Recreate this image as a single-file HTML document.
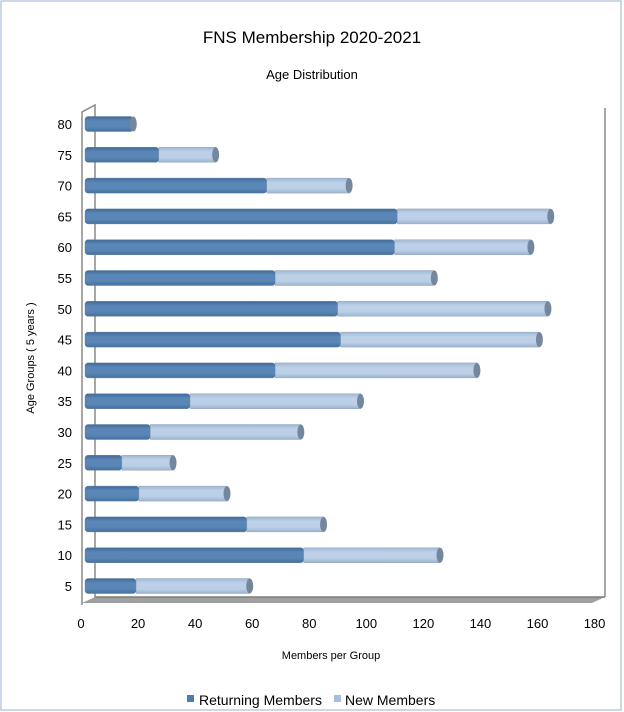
<!DOCTYPE html>
<html><head><meta charset="utf-8"><style>
html,body{margin:0;padding:0;background:#fff;}
svg{display:block;font-family:"Liberation Sans",sans-serif;}
</style></head><body>
<svg id="chart" width="624" height="712" viewBox="0 0 624 712">
<defs>
<linearGradient id="gRet" x1="0" y1="0" x2="0" y2="1">
<stop offset="0" stop-color="#3f6a9a"/><stop offset="0.3" stop-color="#5b87b8"/><stop offset="0.7" stop-color="#5a86b6"/><stop offset="1" stop-color="#44709f"/></linearGradient>
<linearGradient id="gNew" x1="0" y1="0" x2="0" y2="1">
<stop offset="0" stop-color="#9fb7d3"/><stop offset="0.3" stop-color="#bcd0e8"/><stop offset="0.7" stop-color="#bbcfe7"/><stop offset="1" stop-color="#9cb3cf"/></linearGradient>
</defs>
<rect x="1" y="1" width="620" height="709" fill="#fff" stroke="#a9bcd8" stroke-width="1.2"/>
<text x="312" y="43" font-size="17" text-anchor="middle">FNS Membership  2020-2021</text>
<text x="312" y="79" font-size="13" text-anchor="middle">Age Distribution</text>
<text transform="translate(34,358) rotate(-90)" font-size="11" text-anchor="middle">Age Groups ( 5 years )</text>
<text x="331" y="659" font-size="11" text-anchor="middle">Members per Group</text>
<g>
<polyline points="82,605 82,112 95,105 95,597" fill="none" stroke="#8a8a8a" stroke-width="1.5"/>
<line x1="605" y1="108" x2="605" y2="597" stroke="#8a8a8a" stroke-width="1.5"/>
<polygon points="82,603 592,603 605,597 95,597" fill="#a0a0a0"/>
<line x1="95" y1="597" x2="605" y2="597" stroke="#7c7c7c" stroke-width="1.5"/>
</g>
<g id="bars"></g>
<g id="yticks"></g>
<g id="xticks"></g>
<g>
<g>
<rect x="187" y="695" width="7" height="7" fill="#4f7cb0"/>
<text x="199" y="705" font-size="14">Returning Members</text></g>
<g>
<rect x="334" y="695" width="7" height="7" fill="#a7bfdc"/>
<text x="345" y="705" font-size="14">New Members</text></g>
</g>
</svg>
<script>
const categories = ["80","75","70","65","60","55","50","45","40","35","30","25","20","15","10","5"];
const returning  = [17, 26, 64, 110, 109, 67, 89, 90, 67, 37, 23, 13, 19, 57, 77, 18];
const newMembers = [0, 20, 29, 54, 48, 56, 74, 70, 71, 60, 53, 18, 31, 27, 48, 40];
const xTicks = [0,20,40,60,80,100,120,140,160,180];

const NS="http://www.w3.org/2000/svg";
const X0=85, XS=2.84;
function xPos(v){return X0+v*XS;}
function yPos(i){return 124+i*30.8;}
function mk(tag,attrs,parent){const e=document.createElementNS(NS,tag);for(const k in attrs)e.setAttribute(k,attrs[k]);parent.appendChild(e);return e;}
const bars=document.getElementById('bars');
const yt=document.getElementById('yticks');
const xt=document.getElementById('xticks');
const H=15;
categories.forEach((c,i)=>{
  const yc=yPos(i), y=yc-H/2;
  const r=returning[i], n=newMembers[i];
  const g=mk('g',{},bars);
  
  
  const br=mk('rect',{x:xPos(0),y:y,width:xPos(r)-xPos(0),height:H,rx:3,fill:'url(#gRet)',stroke:'#5d7894','stroke-width':0.4},g);
  
  
  if(n>0){
    const bn=mk('rect',{x:xPos(r),y:y,width:xPos(r+n)-xPos(r),height:H,fill:'url(#gNew)',stroke:'#8a9bb0','stroke-width':0.4},g);
    
    
  }
  const cap=mk('ellipse',{cx:xPos(r+n),cy:yc,rx:3.5,ry:H/2,fill:'#74879c'},g);
  
  
  const t=mk('text',{x:72,y:yc+5,'font-size':13,'text-anchor':'end'},yt);
  t.textContent=c;
  
  
});
xTicks.forEach(v=>{
  const t=mk('text',{x:81+v*2.853,y:628,'font-size':13,'text-anchor':'middle'},xt);
  t.textContent=v;
  
  
});
</script>
</body></html>
